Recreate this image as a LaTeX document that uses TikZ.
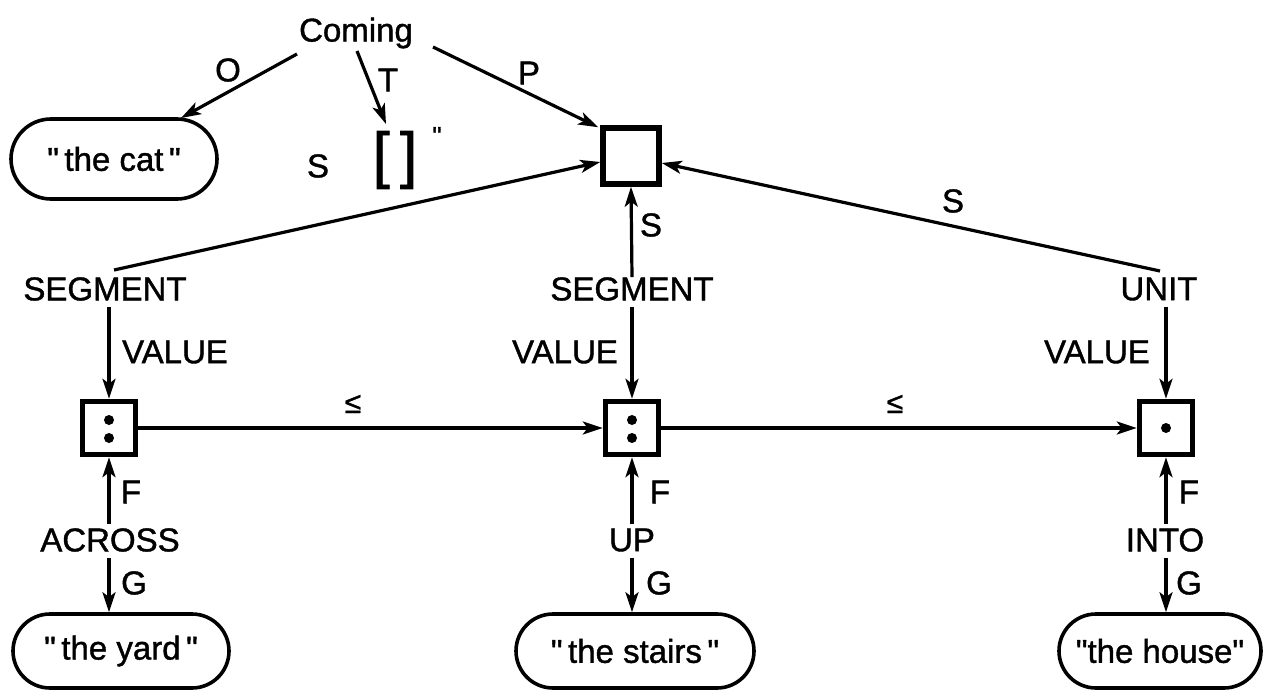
\documentclass[tikz,border=0pt]{standalone}
\usepackage{fontspec}
\setmainfont[FakeBold=1.2]{Liberation Sans}
\usetikzlibrary{arrows.meta,shapes.misc}
\newcommand{\qq}{\textquotedbl}
\begin{document}
\begin{tikzpicture}[x=1pt,y=1pt,
  lbl/.style={inner sep=0pt,font=\fontsize{33}{36}\selectfont},
  arr/.style={line width=3.2pt,-{Stealth[length=20pt,width=13pt,inset=5pt]}},
  ln/.style={line width=3.2pt},
  sqbox/.style={draw,line width=5.5pt,minimum size=#1,inner sep=0pt},
  oval/.style={draw,line width=3.6pt,rounded rectangle,minimum height=80pt,inner sep=0pt,font=\fontsize{33}{36}\selectfont},
  dot/.style={fill,circle,inner sep=0pt,minimum size=10pt}
]
\useasboundingbox (0,0) rectangle (1267,-690);
% top
\node[lbl] (coming) at (356,-33) {Coming};
\node[oval,minimum width=206pt] (cat) at (114,-159) {\qq\,the cat\,\qq};
\node[inner sep=0pt,font=\fontsize{62}{64}\selectfont] (tbox) at (395,-160) {[\,]};
\node[inner sep=0pt,font=\fontsize{26}{28}\selectfont] (tick) at (437,-136) {\qq};
\node[sqbox=56pt] (sq) at (631,-156) {};
% labels on top arrows
\node[lbl] (lO) at (228,-70) {O};
\node[lbl] (lT) at (388,-80) {T};
\node[lbl] (lP) at (529,-73) {P};
\node[lbl] (lS1) at (318,-166) {S};
\node[lbl] (lS2) at (651,-225) {S};
\node[lbl] (lS3) at (953,-201) {S};
% middle row
\node[lbl] (seg1) at (105,-289) {SEGMENT};
\node[lbl] (seg2) at (632,-289) {SEGMENT};
\node[lbl] (unit) at (1159,-289) {UNIT};
\node[lbl] (v1) at (175,-352) {VALUE};
\node[lbl] (v2) at (565,-352) {VALUE};
\node[lbl] (v3) at (1097,-352) {VALUE};
% small boxes
\node[sqbox=53pt] (b1) at (109,-428) {};
\node[sqbox=53pt] (b2) at (632,-428) {};
\node[sqbox=53pt] (b3) at (1166,-428) {};
\node[dot] (d1a) at (109,-420) {};
\node[dot] (d1b) at (109,-438) {};
\node[dot] (d2a) at (632,-420) {};
\node[dot] (d2b) at (632,-438) {};
\node[dot] (d3) at (1166,-428) {};
\node[lbl,font=\fontsize{30}{32}\selectfont] (le1) at (353,-404) {≤};
\node[lbl,font=\fontsize{30}{32}\selectfont] (le2) at (895,-404) {≤};
\node[lbl] (f1) at (131,-492) {F};
\node[lbl] (f2) at (660,-492) {F};
\node[lbl] (f3) at (1189,-492) {F};
% lower row
\node[lbl] (across) at (110,-540) {ACROSS};
\node[lbl] (up) at (632,-540) {UP};
\node[lbl] (into) at (1165,-540) {INTO};
\node[lbl] (g1) at (134,-583) {G};
\node[lbl] (g2) at (659,-583) {G};
\node[lbl] (g3) at (1189,-583) {G};
\node[oval,minimum width=216pt,minimum height=74pt] (yard) at (121,-651) {\qq\,the yard\,\qq};
\node[oval,minimum width=238pt,minimum height=74pt] (stairs) at (635,-651) {\qq\,the stairs\,\qq};
\node[oval,minimum width=202pt,minimum height=74pt] (house) at (1160,-651) {\qq the house\qq};
% top connectors
\coordinate (cO) at (297,-54);
\coordinate (cT) at (357,-51);
\coordinate (cP) at (433,-47);
\draw[arr] (cO) -- (181,-118);
\draw[arr] (cT) -- (386,-124);
\draw[arr] (cP) -- ([xshift=-2pt,yshift=-2pt]sq.north west);
\coordinate (s1) at (114,-270);
\coordinate (s3) at (1160,-271);
\draw[arr] (s1) -- ([yshift=-6pt]sq.west);
\draw[arr] (seg2.north) -- (sq.south);
\draw[arr] (s3) -- ([yshift=-7pt]sq.east);
% value arrows
\draw[arr] ([yshift=-6pt]seg1.south -| b1) -- (b1.north);
\draw[arr] ([yshift=-6pt]seg2.south -| b2) -- (b2.north);
\draw[arr] ([yshift=-6pt]unit.south -| b3) -- (b3.north);
% horizontal
\draw[arr] (b1.east) -- (b2.west);
\draw[arr] (b2.east) -- (b3.west);
% F arrows
\draw[arr] ([yshift=4pt]across.north -| b1) -- (b1.south);
\draw[arr] ([yshift=4pt]up.north -| b2) -- (b2.south);
\draw[arr] ([yshift=4pt]into.north -| b3) -- (b3.south);
% G arrows
\draw[arr] ([yshift=-6pt]across.south -| b1) -- (yard.north -| b1);
\draw[arr] ([yshift=-6pt]up.south -| b2) -- (stairs.north -| b2);
\draw[arr] ([yshift=-6pt]into.south -| b3) -- (house.north -| b3);
\end{tikzpicture}
\end{document}
